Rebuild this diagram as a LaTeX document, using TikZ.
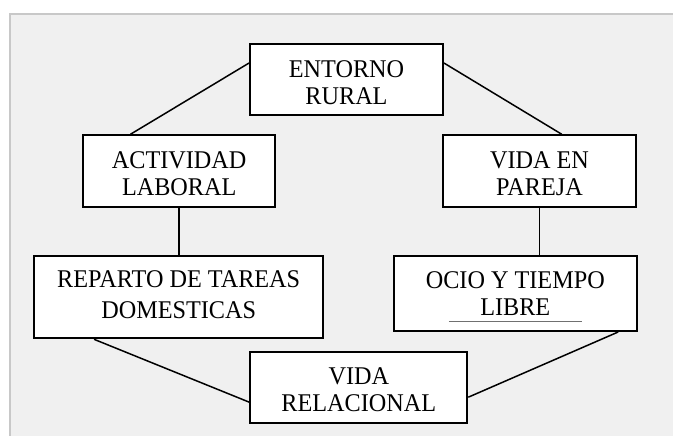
\documentclass[tikz,border=0pt]{standalone}
\usepackage{fontspec}
\setmainfont{Liberation Serif}[FakeStretch=0.95]
\usetikzlibrary{calc}
\definecolor{panel}{HTML}{F0F0F0}
\definecolor{frameedge}{HTML}{C8C8C8}
\definecolor{uline}{HTML}{707070}
\begin{document}
\begin{tikzpicture}[x=1pt,y=-1pt,
  box/.style={draw=black,line width=2pt,fill=white,rectangle,inner sep=0pt},
  lbl/.style={inner sep=0pt,align=center,font=\fontsize{25.5}{27.5}\selectfont},
  link/.style={draw=black,line width=1.5pt}]
\useasboundingbox (0,0) rectangle (673,436);
\fill[white] (0,0) rectangle (673,436);
\draw[fill=panel,draw=frameedge,line width=2.2pt] (9.8,14.3) rectangle (690,450);
% boxes
\node[box,minimum width=193pt,minimum height=71.5pt] (e) at (346.5,79.3) {};
\node[box,minimum width=192.5pt,minimum height=72pt] (a) at (179.2,171.3) {};
\node[box,minimum width=192.4pt,minimum height=72pt] (v) at (539.5,171.3) {};
\node[box,minimum width=289.3pt,minimum height=82pt] (r) at (178.7,297.3) {};
\node[box,minimum width=242.7pt,minimum height=75pt] (o) at (515.3,293.5) {};
\node[box,minimum width=217pt,minimum height=71.6pt] (vr) at (358.8,387.5) {};
% labels
\node[lbl] (et) at (346.5,82.5) {ENTORNO\\RURAL};
\node[lbl] (at) at (179.2,173.9) {ACTIVIDAD\\LABORAL};
\node[lbl] (vt) at (539.5,173.9) {VIDA EN\\PAREJA};
\node[lbl,font=\fontsize{25.5}{30.7}\selectfont] (rt) at (178.7,294.5) {REPARTO DE TAREAS\\DOMESTICAS};
\node[lbl] (ot) at (515.3,293.8) {OCIO Y TIEMPO\\LIBRE};
\node[lbl] (vrt) at (358.8,389.7) {VIDA\\RELACIONAL};
% underline in leisure box
\coordinate (ul1) at ($(o.south west)+(56,-10.3)$);
\coordinate (ul2) at ($(o.south west)+(188.7,-10.3)$);
\draw[uline,line width=0.7pt] (ul1) -- (ul2);
% connectors
\draw[link] ($(e.north west)+(0,20.5)$) -- ($(a.north west)+(48.5,0)$);
\draw[link] ($(e.north east)+(0,20.5)$) -- ($(v.north west)+(119.5,0)$);
\draw[link] (a.south) -- (a.south |- r.north);
\draw[link] (v.south) -- (v.south |- o.north);
\draw[link] ($(r.south west)+(61,0)$) -- ($(vr.north west)+(0,51.5)$);
\draw[link] ($(o.south east)+(-19.5,0)$) -- ($(vr.north east)+(0,46.5)$);
\end{tikzpicture}
\end{document}
